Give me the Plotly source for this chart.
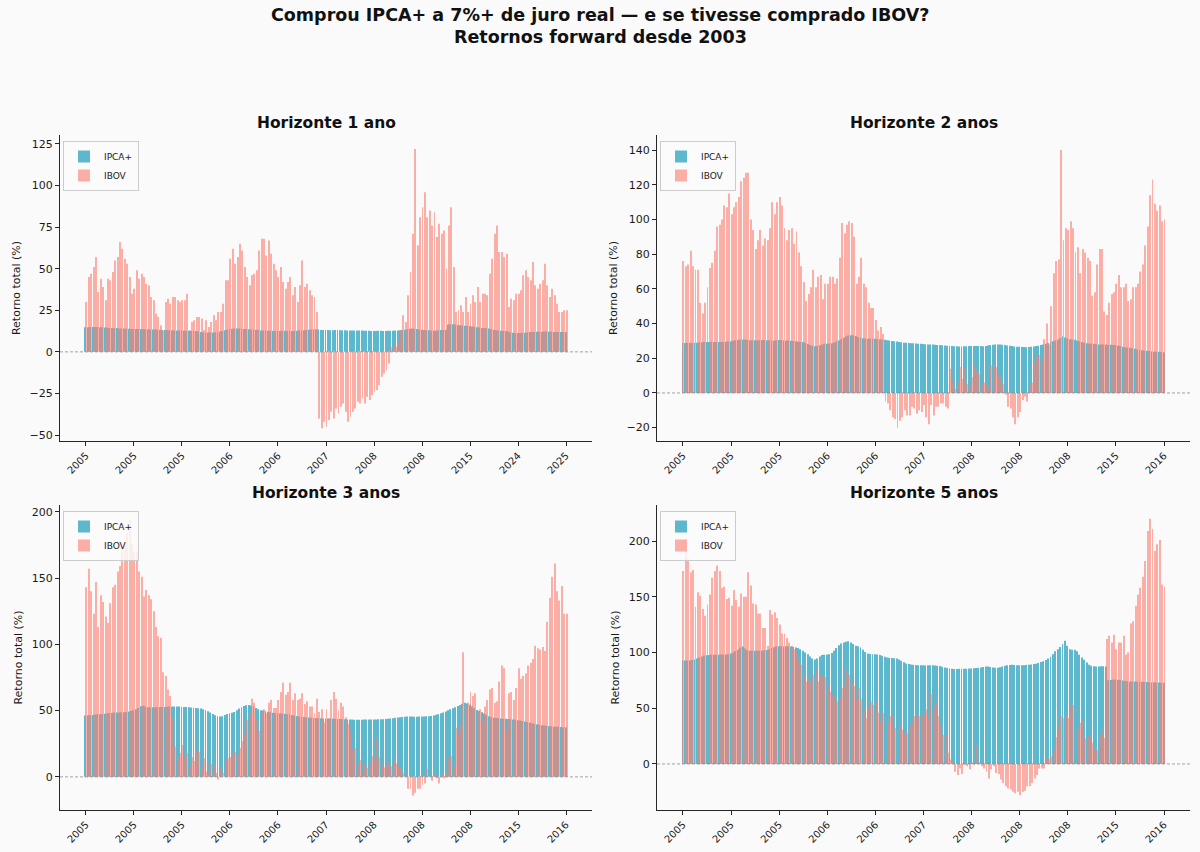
import plotly.graph_objects as go

# ---------------- data ----------------
ticks_h1 = ["2005", "2005", "2005", "2006", "2006", "2007", "2008", "2008", "2015", "2024", "2025"]
ticks_h2 = ["2005", "2005", "2005", "2006", "2006", "2007", "2008", "2008", "2008", "2015", "2016"]
ticks_h3 = ["2005", "2005", "2005", "2006", "2006", "2007", "2008", "2008", "2008", "2015", "2016"]
ticks_h5 = ["2005", "2005", "2005", "2006", "2006", "2007", "2008", "2008", "2008", "2015", "2016"]

ipca_h1 = [
    14.8, 14.8, 14.9, 14.9, 15.0, 14.9, 14.8, 14.8, 14.7, 14.7,
    14.4, 14.3, 14.2, 14.3, 14.1, 14.0, 14.0, 13.9, 13.9, 13.8,
    13.8, 13.7, 13.7, 13.8, 13.8, 13.6, 13.6, 13.5, 13.5, 13.4,
    13.3, 13.3, 13.2, 13.1, 13.1, 13.0, 13.0, 12.9, 12.9, 12.8,
    12.8, 12.8, 12.7, 12.7, 12.6, 12.6, 12.5, 12.3, 12.0, 11.8,
    11.7, 11.6, 11.6, 11.7, 11.8, 11.9, 12.2, 12.6, 13.0, 13.4,
    13.7, 13.9, 14.1, 14.1, 14.0, 13.9, 13.8, 13.8, 13.6, 13.5,
    13.4, 13.3, 13.1, 12.9, 12.8, 12.8, 12.7, 12.7, 12.7, 12.6,
    12.6, 12.6, 12.7, 12.7, 12.6, 12.6, 12.6, 12.7, 12.7, 12.8,
    12.9, 13.0, 13.1, 13.3, 13.5, 13.6, 13.6, 13.4, 13.2, 13.1,
    13.1, 13.1, 13.0, 13.0, 13.1, 13.1, 13.0, 13.0, 13.0, 12.9,
    12.9, 12.9, 12.8, 12.8, 12.8, 12.8, 12.7, 12.7, 12.7, 12.6,
    12.6, 12.6, 12.7, 12.7, 12.6, 12.6, 12.7, 12.7, 12.7, 12.8,
    12.9, 13.0, 13.1, 13.3, 13.6, 13.9, 14.1, 13.9, 13.7, 13.5,
    13.3, 13.2, 13.0, 13.0, 12.9, 12.9, 12.9, 13.0, 13.1, 13.2,
    13.3, 16.4, 16.6, 16.6, 16.5, 16.3, 16.0, 15.8, 15.7, 15.6,
    15.5, 15.3, 15.1, 14.8, 14.6, 14.4, 14.3, 14.2, 14.0, 13.6,
    13.3, 13.0, 12.8, 12.7, 12.6, 12.5, 12.2, 11.8, 11.5, 11.4,
    11.3, 11.3, 11.4, 11.5, 11.7, 11.9, 12.0, 12.0, 12.1, 12.1,
    12.1, 12.2, 12.2, 12.1, 12.1, 12.0, 12.0, 12.0, 12.0, 12.0, 12.0,
]
ibov_h1 = [
    30, 45, 47, 51, 57, 36, 44, 39, 31,
    44, 43, 48, 55, 57, 66, 62, 56,
    53, 45, 35, 38, 49, 44, 47, 45,
    41, 40, 33, 31, 23, 21, 16, 13,
    30, 32, 29, 33, 33, 31, 30, 31, 31,
    35, 13, 18, 19, 21, 21, 20, 13,
    19, 15, 18, 22, 19, 24, 24, 29,
    43, 43, 56, 62, 53, 57, 65, 61,
    51, 45, 40, 46, 47, 49, 61, 68, 68,
    58, 67, 59, 53, 49, 45, 51, 42,
    38, 42, 45, 34, 39, 30, 40, 55,
    39, 41, 37, 34, 33, 24,
    -40, -46, -42, -45, -41, -36, -40, -34, -37,
    -33, -31, -36, -42, -39, -36, -34, -30,
    -31, -28, -31, -27, -29, -26, -24, -23,
    -20, -15, -13, -11, -7, 3, 4, 3, 6,
    13, 22, 18, 34, 48, 71, 122, 64,
    81, 87, 96, 81, 85, 76, 84, 69,
    77, 71, 73, 50, 76, 87, 51, 24, 25,
    28, 24, 33, 24, 29, 34, 30, 39,
    30, 35, 35, 34, 47, 56, 71, 76,
    60, 60, 57, 59, 27, 32, 31, 35, 35,
    37, 46, 49, 45, 43, 54, 40, 38,
    41, 43, 53, 40, 33, 38, 34, 29,
    24, 24, 25, 25,
]

ipca_h2 = [
    28.8, 28.8, 28.9, 28.9, 28.8, 28.9, 29.0, 29.1, 29.2, 29.3,
    29.4, 29.4, 29.5, 29.4, 29.4, 29.3, 29.3, 29.4, 29.5, 29.6,
    29.8, 30.1, 30.4, 30.6, 30.7, 30.8, 30.6, 30.5, 30.4, 30.4,
    30.4, 30.3, 30.4, 30.5, 30.5, 30.4, 30.4, 30.3, 30.3, 30.4,
    30.5, 30.5, 30.4, 30.3, 30.2, 30.1, 30.0, 29.8, 29.6, 29.4,
    29.3, 29.0, 28.4, 27.7, 27.2, 26.9, 27.0, 27.5, 28.0, 28.3,
    28.4, 28.5, 28.6, 29.0, 29.6, 30.2, 31.0, 31.8, 32.6, 33.1,
    33.3, 33.2, 32.8, 32.2, 31.8, 31.5, 31.4, 31.3, 31.3, 31.2,
    31.2, 31.1, 31.0, 30.8, 30.6, 30.4, 30.2, 30.0, 29.8, 29.6,
    29.4, 29.2, 29.0, 28.9, 28.8, 28.7, 28.6, 28.5, 28.4, 28.3,
    28.2, 28.1, 28.0, 28.0, 27.9, 27.8, 27.7, 27.6, 27.5, 27.3,
    27.2, 27.1, 27.0, 26.9, 26.9, 26.8, 26.8, 26.9, 26.9, 27.0,
    27.0, 27.1, 27.1, 27.0, 27.0, 26.9, 27.0, 27.3, 27.6, 27.8,
    27.9, 28.0, 27.9, 27.8, 27.6, 27.4, 27.2, 27.0, 26.8, 26.7,
    26.6, 26.5, 26.5, 26.4, 26.5, 26.6, 26.8, 27.0, 27.2, 27.6,
    28.0, 28.4, 28.8, 29.3, 29.8, 30.3, 30.8, 31.5, 32.5, 32.0,
    31.4, 31.0, 30.8, 30.6, 30.2, 29.8, 29.4, 29.0, 28.7, 28.5,
    28.4, 28.3, 28.1, 28.0, 27.9, 27.9, 27.9, 27.8, 27.8, 27.7,
    27.6, 27.3, 27.0, 26.7, 26.4, 26.2, 26.0, 25.8, 25.5, 25.1,
    24.8, 24.6, 24.5, 24.3, 24.2, 24.0, 23.9, 23.8, 23.7, 23.6, 23.5,
]
ibov_h2 = [
    76, 73, 74, 82, 73, 71, 71, 52, 46, 52,
    61, 72, 75, 82, 96, 97, 100, 108, 107, 115,
    103, 107, 110, 113, 122, 124, 127, 127, 100, 94,
    83, 88, 94, 85, 89, 88, 95, 110, 103, 110,
    113, 108, 95, 88, 94, 95, 86, 93, 81, 73,
    64, 53, 57, 61, 71, 61, 67, 68, 54, 63,
    63, 67, 67, 63, 66, 78, 98, 92, 97, 99,
    98, 90, 63, 67, 78, 63, 61, 52, 49, 49,
    42, 36, 38, 34,
    -5, -6, -10, -14, -15, -20, -16, -14, -10, -13, -13, -8, -9, -12, -10,
    -11, -7, -14, -18, -7, -13, -8, -8, -6, -6, -8, -9,
    14, 8, 2.5, 6, 15, 8, 15, 5, 4, 9, 16, 13, 11, 5, 6, 5, 2, 16, 16, 15, 10, 9, 5,
    -1, -8, -9, -14, -18, -14, -11, -4, -2, -5,
    5, 6, 17, 21, 22, 19, 31, 40, 28, 50,
    69, 76, 77, 140, 88, 95, 94, 99, 95, 81,
    84, 69, 83, 81, 78, 76, 56, 58, 74, 83,
    83, 47, 45, 52, 57, 58, 63, 68, 61, 61,
    63, 53, 54, 61, 61, 63, 70, 74, 85, 96,
    114, 123, 109, 105, 108, 99, 100,
]

ipca_h3 = [
    46.3, 46.4, 46.5, 46.7, 47.0, 47.2, 47.3, 47.4, 47.6, 47.9,
    48.2, 48.4, 48.5, 48.5, 48.6, 48.7, 48.8, 49.0, 49.3, 49.7,
    50.2, 51.0, 52.0, 53.2, 53.6, 53.0, 52.6, 52.5, 52.5, 52.6,
    52.6, 52.7, 52.8, 52.8, 52.9, 53.0, 53.0, 53.0, 53.1, 53.0,
    52.9, 52.8, 52.7, 52.6, 52.4, 52.2, 52.0, 51.8, 51.5, 51.0,
    50.3, 49.5, 48.6, 47.5, 46.5, 45.8, 45.5, 45.8, 46.6, 47.5,
    48.0, 48.3, 49.0, 50.2, 51.5, 52.6, 53.4, 54.0, 54.2, 53.8,
    53.0, 52.0, 51.0, 50.3, 50.0, 49.6, 49.2, 48.8, 48.4, 48.2,
    48.0, 47.9, 47.8, 47.6, 47.3, 47.0, 46.7, 46.3, 46.0, 45.6,
    45.3, 45.1, 44.9, 44.7, 44.6, 44.5, 44.4, 44.3, 44.2, 44.1,
    44.1, 44.0, 44.0, 43.9, 43.8, 43.7, 43.6, 43.5, 43.4, 43.3,
    43.2, 43.2, 43.1, 43.1, 43.1, 43.1, 43.2, 43.2, 43.2, 43.3,
    43.3, 43.3, 43.4, 43.5, 43.5, 43.6, 43.8, 44.0, 44.3, 44.6,
    44.8, 45.0, 45.2, 45.4, 45.6, 45.6, 45.5, 45.4, 45.4, 45.5,
    45.6, 45.6, 45.7, 45.8, 46.0, 46.3, 46.8, 47.3, 47.9, 48.6,
    49.3, 50.2, 51.0, 51.8, 52.6, 53.5, 54.3, 55.2, 56.0, 55.4,
    54.4, 53.2, 51.8, 50.5, 49.6, 48.7, 47.8, 46.8, 45.8, 45.0,
    44.6, 44.4, 44.2, 44.0, 43.9, 43.8, 43.7, 43.5, 43.3, 43.0,
    42.7, 42.5, 42.2, 41.8, 41.4, 41.0, 40.5, 40.0, 39.6, 39.3,
    39.0, 38.8, 38.6, 38.4, 38.2, 38.0, 37.9, 37.8, 37.6, 37.5, 37.4,
]
ibov_h3 = [
    143, 157, 140, 123, 147, 113, 137, 132, 121, 116,
    131, 143, 145, 155, 159, 174, 177, 184, 194, 176,
    170, 170, 155, 151, 136, 141, 137, 134, 125, 113,
    106, 105, 79, 76, 66, 61, 45, 23, 15, 18,
    24, 14, 18, 8, 15, 12, 20, 19, 9, 14,
    4, 3, 10, 9, 3, -2, 7, 3, 13, 14,
    15, 17, 19, 17, 22, 27, 33, 43, 48, 59,
    56, 43, 35, 49, 51, 48, 56, 58, 52, 52,
    58, 64, 71, 62, 64, 71, 58, 63, 58, 59,
    63, 55, 57, 53, 53, 48, 59, 49, 51, 41,
    51, 44, 58, 64,
    59, 50, 56, 53, 45, 40, 35,
    20, 22, 10, 13, 3, 10, 7, 10, 16, 13,
    29, 15, 9, 7, 9, 12, 8, 13, 10, 8,
    7, 3, 2, -9, -9, -14, -12, -9, -9, -6,
    -5, 6, 0, -3, 2, -1, -5, 3, -1, 3,
    14, 16, 8, 37, 33, 39, 94, 53, 56, 64,
    61, 63, 49, 51, 42, 53, 58, 66, 67, 56,
    57, 72, 84, 82, 35, 63, 64, 58, 67, 82,
    74, 76, 78, 84, 86, 89, 99, 97, 96, 98,
    95, 117, 135, 151, 161, 140, 133, 144, 123, 123,
]

ipca_h5 = [
    92.7, 92.7, 92.8, 93.0, 93.3, 93.6, 94.5, 95.5, 96.5, 97.2,
    97.6, 97.8, 97.9, 98.0, 98.0, 98.0, 98.1, 98.1, 98.2, 98.4,
    99.0, 100.0, 101.0, 102.5, 104.5, 105.3, 103.5, 102.0, 101.6, 101.5,
    101.6, 101.6, 101.7, 101.8, 101.9, 102.2, 103.0, 104.0, 104.8, 105.3,
    105.6, 105.7, 105.7, 105.6, 105.5, 105.3, 105.0, 104.5, 104.0, 103.0,
    101.5, 100.0, 98.5, 96.5, 94.5, 93.6, 94.5, 96.5, 97.8, 98.0,
    98.2, 98.5, 99.5, 101.5, 104.0, 106.5, 108.0, 109.0, 109.6, 110.0,
    109.0, 107.5, 106.0, 105.5, 104.5, 102.5, 100.5, 99.0, 98.7, 98.5,
    98.5, 98.2, 97.8, 97.0, 96.2, 95.6, 95.2, 95.0, 94.8, 94.5,
    93.8, 92.5, 91.2, 90.2, 89.6, 89.2, 89.0, 88.8, 88.6, 88.5,
    88.5, 88.4, 88.5, 88.6, 88.5, 88.4, 88.2, 87.8, 87.3, 86.6,
    86.0, 85.6, 85.3, 85.2, 85.2, 85.3, 85.4, 85.5, 85.5, 85.6,
    85.7, 85.9, 86.1, 86.3, 86.6, 87.0, 87.4, 87.4, 87.0, 86.5,
    86.3, 86.4, 86.8, 87.4, 88.0, 88.5, 88.8, 88.9, 88.8, 88.6,
    88.5, 88.5, 88.6, 88.8, 89.0, 89.3, 89.6, 90.0, 90.6, 91.4,
    92.2, 93.2, 94.5, 96.2, 98.5, 101.0, 103.0, 105.0, 107.5, 110.5,
    106.0, 103.0, 102.5, 102.5, 101.0, 98.0, 95.5, 93.5, 91.0, 89.0,
    88.0, 87.6, 87.5, 87.5, 87.7, 87.6, 87.4, 75.0, 75.4, 75.6,
    75.8, 75.6, 75.4, 74.8, 74.5, 74.2, 74.0, 73.9, 73.9, 73.8,
    73.7, 73.7, 73.6, 73.5, 73.4, 73.3, 73.2, 73.1, 73.0, 72.9, 72.8,
]
ibov_h5 = [
    173, 191, 184, 172, 174, 141, 154, 151, 139, 133,
    143, 152, 167, 173, 178, 173, 158, 159, 148, 149,
    142, 156, 147, 141, 153, 150, 150, 172, 160, 144,
    143, 135, 135, 122, 122, 106, 138, 134, 136, 131,
    125, 117, 117, 113, 109, 106, 103, 101, 94, 89,
    79, 74, 76, 73, 80, 85, 74, 79, 80, 78,
    70, 65, 61, 61, 56, 59, 68, 71, 85, 80,
    74, 70, 58, 68, 58, 49, 41, 50, 56, 53,
    56, 46, 38, 46, 43, 38, 43, 43, 32, 31,
    35, 31, 27, 28, 34, 38, 43, 44, 43,
    44, 45, 49, 41, 63, 50, 55, 43, 34, 26,
    25, 10, 4, 2, -7, -10, -4, -9, -1, -2,
    -5, 1, -1, 16, 2, -2, -4, -7, -13, -5,
    -2, -8, -9, -14, -17, -20, -22, -23, -25, -26,
    -25, -28, -25, -24, -20, -20, -17, -13, -10, -4,
    -4, -4, 5, 5, 7, 13, 24, 32, 43, 41,
    43, 41, 52, 53, 34, 31, 37, 39, 23, 25,
    23, 19, 13, 13, 25, 29, 23, 112, 115, 109,
    116, 103, 109, 109, 115, 98, 100, 126, 128, 142,
    152, 158, 168, 182, 209, 220, 211, 191, 197, 201,
    161, 159,
]

panel_titles = ["Horizonte 1 ano", "Horizonte 2 anos", "Horizonte 3 anos", "Horizonte 5 anos"]
series_names = ["IPCA+", "IBOV"]

# ---------------- styling / layout ----------------
FONT = "DejaVu Sans"
W, H = 1200, 852
BG = "#FAFAFA"
C_IPCA = "#219EBC"
C_IBOV = "#FA8072"


def px_x(p):
    return p / W


def px_y(p):
    return 1 - p / H


panels = [
    dict(ipca=ipca_h1, ibov=ibov_h1, ticks=ticks_h1, xd=(60, 592), yd=(135, 441), yr=(-53.6, 130.4), dt=25),
    dict(ipca=ipca_h2, ibov=ibov_h2, ticks=ticks_h2, xd=(657, 1190), yd=(135, 441), yr=(-27.7, 148.7), dt=20),
    dict(ipca=ipca_h3, ibov=ibov_h3, ticks=ticks_h3, xd=(60, 592), yd=(505, 810), yr=(-25.0, 205.1), dt=50),
    dict(ipca=ipca_h5, ibov=ibov_h5, ticks=ticks_h5, xd=(657, 1190), yd=(505, 810), yr=(-41.3, 232.3), dt=50),
]

fig = go.Figure()
layout = dict(
    width=W, height=H, margin=dict(l=0, r=0, t=0, b=0),
    paper_bgcolor=BG, plot_bgcolor=BG,
    font=dict(family=FONT, color="#1a1a1a", size=10),
    barmode="group", bargap=0.2, bargroupgap=0.0,
    showlegend=True,
)
shapes = []
annotations = []

for i, p in enumerate(panels):
    n = len(p["ipca"])
    assert n == len(p["ibov"]), (i, n, len(p["ibov"]))
    sfx = "" if i == 0 else str(i + 1)
    xs = list(range(n))
    leg = "legend" + sfx
    fig.add_trace(go.Bar(
        x=xs, y=p["ipca"], name=series_names[0], xaxis="x" + sfx, yaxis="y" + sfx,
        marker=dict(color=C_IPCA, line=dict(width=0)), opacity=0.72, legend=leg,
    ))
    fig.add_trace(go.Bar(
        x=xs, y=p["ibov"], name=series_names[1], xaxis="x" + sfx, yaxis="y" + sfx,
        marker=dict(color=C_IBOV, line=dict(width=0)), opacity=0.62, legend=leg,
    ))
    x0, x1 = p["xd"]
    y0, y1 = p["yd"]
    tickvals = list(range(0, 20 * len(p["ticks"]), 20))
    layout["xaxis" + sfx] = dict(
        domain=[px_x(x0), px_x(x1)], anchor="y" + sfx,
        range=[-0.052 * (n - 1) - 0.4, (n - 1) * 1.052 + 0.4],
        tickmode="array", tickvals=tickvals, ticktext=p["ticks"],
        tickangle=-45, tickfont=dict(size=10, family=FONT, color="#1a1a1a"),
        showline=True, linecolor="#262626", linewidth=1,
        ticks="outside", ticklen=4, tickwidth=0.8, tickcolor="#262626",
        showgrid=False, zeroline=False,
    )
    layout["yaxis" + sfx] = dict(
        domain=[px_y(y1), px_y(y0)], anchor="x" + sfx,
        range=list(p["yr"]), tick0=0, dtick=p["dt"],
        tickfont=dict(size=11, family=FONT, color="#1a1a1a"),
        showline=True, linecolor="#262626", linewidth=1,
        ticks="outside", ticklen=4, tickwidth=0.8, tickcolor="#262626",
        showgrid=False, zeroline=False,
        title=dict(text="Retorno total (%)", font=dict(size=11, family=FONT, color="#1a1a1a"), standoff=6),
    )
    layout[leg] = dict(
        x=px_x(x0 + 3), y=px_y(y0 + 6), xanchor="left", yanchor="top",
        bgcolor="rgba(250,250,250,0.85)", bordercolor="#CCCCCC", borderwidth=1,
        font=dict(size=9, family=FONT, color="#1a1a1a"),
        tracegroupgap=0, itemwidth=30,
    )
    shapes.append(dict(
        type="line", xref="x" + sfx + " domain", yref="y" + sfx,
        x0=0, x1=1, y0=0, y1=0,
        line=dict(color="#8c8c8c", width=0.8, dash="3px,2px"), layer="above",
    ))
    annotations.append(dict(
        text="<b>" + panel_titles[i] + "</b>", x=px_x((x0 + x1) / 2), y=px_y(y0 - 12),
        xref="paper", yref="paper", xanchor="center", yanchor="middle", showarrow=False,
        font=dict(size=15.5, family=FONT, color="#111111"),
    ))

annotations.append(dict(
    text="<b>Comprou IPCA+ a 7%+ de juro real — e se tivesse comprado IBOV?</b>",
    x=0.5, y=px_y(15), xref="paper", yref="paper", xanchor="center", yanchor="middle",
    showarrow=False, font=dict(size=17.5, family=FONT, color="#111111"),
))
annotations.append(dict(
    text="<b>Retornos forward desde 2003</b>",
    x=0.5, y=px_y(36.5), xref="paper", yref="paper", xanchor="center", yanchor="middle",
    showarrow=False, font=dict(size=17.5, family=FONT, color="#111111"),
))

layout["shapes"] = shapes
layout["annotations"] = annotations
fig.update_layout(**layout)
fig.write_html("out.html")
